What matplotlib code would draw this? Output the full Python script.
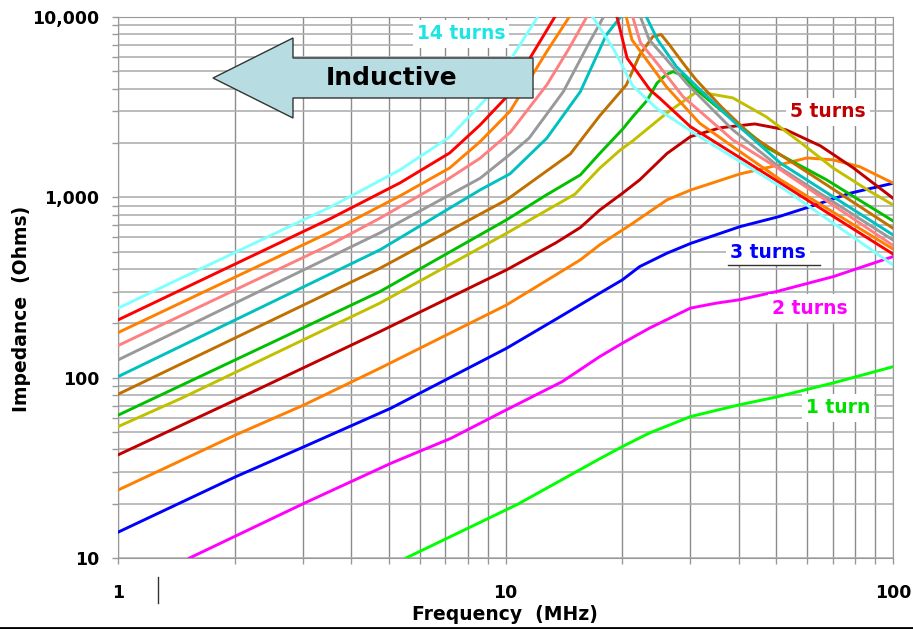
import matplotlib
matplotlib.use("Agg")
import matplotlib.pyplot as plt
from matplotlib.ticker import FixedLocator, FuncFormatter, LogLocator, NullFormatter
from matplotlib.patches import Polygon
from matplotlib.lines import Line2D

# impedance vs frequency, one curve per number of turns (MHz, Ohms)
TURN1_FREQ = [5.54, 10.77, 17.5, 20, 23.5, 30, 40, 50, 70, 100]
TURN1_Z = [10, 19.9, 35.5, 41.4, 49.3, 60.8, 70.6, 78.1, 93.4, 115]

TURN2_FREQ = [1.53, 3.02, 5.06, 7.23, 9.87, 14, 17.5, 20, 23.5, 30, 35, 40, 50, 70, 100]
TURN2_Z = [10, 20.1, 33.5, 46.1, 65, 95, 130.8, 155, 188, 243, 259, 270, 300, 363, 469]

TURN3_FREQ = [1, 2.01, 3.02, 5.06, 10.06, 13.8, 17.5, 20, 22.2, 26.1, 30.1, 40.3, 50.8, 61.1, 77.5, 100]
TURN3_Z = [13.9, 28.2, 41.4, 67.7, 145.5, 217, 294, 348, 413, 490, 556, 688, 782, 888, 1054, 1197]

TURN4_FREQ = [1, 2.01, 3.02, 4.74, 10.06, 15.6, 17.5, 21.3, 26.1, 30.1, 40.3, 50.8, 60, 70, 82, 100]
TURN4_Z = [23.8, 48.1, 70.6, 112.8, 253, 450, 545, 718, 968, 1099, 1349, 1513, 1654, 1614, 1480, 1200]

TURN5_FREQ = [1, 2.01, 4.74, 10.06, 13.5, 15.6, 17.5, 20, 22.2, 26.1, 30, 35.8, 44, 53, 65, 79, 100]
TURN5_Z = [37.3, 75.2, 180, 396, 560, 680, 850, 1050, 1250, 1750, 2170, 2430, 2553, 2366, 1928, 1456, 989]

TURN6_FREQ = [1, 1.46, 4.74, 10.06, 15.1, 17.5, 19.8, 21.3, 26.1, 31.2, 38.6, 47, 57.5, 70, 86, 100]
TURN6_Z = [53.5, 77, 259, 632, 1040, 1450, 1833, 2056, 2940, 3855, 3560, 2803, 2028, 1456, 1099, 908]

TURN7_FREQ = [1, 4.74, 10.06, 12.74, 15.6, 17.5, 20.1, 21.3, 23.2, 24.6, 26, 27.1, 29, 30.4, 35.9, 47.6, 67.4, 100]
TURN7_Z = [61.9, 300, 750, 1030, 1331, 1750, 2400, 2800, 3450, 4300, 4800, 4980, 4670, 4110, 3054, 1871, 1250, 740]

TURN8_FREQ = [1, 4.74, 10.06, 14.7, 17.5, 20.5, 22.2, 24, 25.2, 26.5, 29, 31, 36, 43.4, 47.6, 100]
TURN8_Z = [80.9, 404, 968, 1740, 2830, 4200, 6166, 7785, 8000, 7000, 5400, 4500, 3186, 2170, 1910, 674]

TURN9_FREQ = [1, 4.74, 8.6, 10.27, 12.78, 15.6, 18.2, 19.8, 21.5, 23.1, 24.7, 27.6, 31.8, 39.2, 51.3, 100]
TURN9_Z = [101.3, 511, 1099, 1350, 2127, 3855, 7957, 10000, 12500, 10000, 7468, 5310, 3944, 2576, 1545, 619]

TURN10_FREQ = [1, 4.74, 8.6, 10.27, 11.5, 14.1, 16.5, 17.9, 20, 22.3, 23.5, 26.1, 29.3, 38.6, 51.3, 100]
TURN10_Z = [125.4, 635, 1276, 1730, 2127, 3855, 7303, 10000, 13000, 10000, 7468, 5785, 4295, 2366, 1450, 580]

TURN11_FREQ = [1, 3.55, 4.74, 7.06, 8.6, 10.3, 12.78, 14.6, 16.2, 19, 21.3, 22.3, 25, 28.7, 38.6, 51.3, 100]
TURN11_Z = [150.6, 550, 766, 1250, 1648, 2300, 4200, 6714, 10000, 14000, 10000, 7200, 5310, 3620, 2083, 1420, 541]

TURN12_FREQ = [1, 3.55, 5.34, 7.18, 8.6, 10.27, 12.78, 14.6, 17.5, 20.5, 21.2, 26, 31.7, 38.6, 51.3, 100]
TURN12_Z = [177.7, 646, 1018, 1456, 2036, 3000, 6430, 10000, 15000, 10000, 7468, 4110, 2576, 1910, 1250, 517]

TURN13_FREQ = [1, 3.55, 5.34, 7.18, 8.6, 10.06, 11.5, 13.4, 16.4, 19.4, 20.6, 23.6, 25, 30, 38.6, 51.3, 100]
TURN13_Z = [209, 766, 1202, 1763, 2520, 3600, 5800, 10000, 16000, 10000, 5909, 3944, 3546, 2466, 1756, 1197, 485]

TURN14_FREQ = [1, 3.55, 5.34, 7.18, 8.86, 12.1, 14.3, 16.8, 18.95, 21.3, 24.6, 26.1, 31.7, 40.3, 51.3, 100]
TURN14_Z = [242.7, 888, 1419, 2163, 3471, 10000, 16000, 10000, 6714, 4150, 3100, 2850, 2170, 1578, 1146, 422]

CURVES = [
    (TURN1_FREQ, TURN1_Z), (TURN2_FREQ, TURN2_Z), (TURN3_FREQ, TURN3_Z),
    (TURN4_FREQ, TURN4_Z), (TURN5_FREQ, TURN5_Z), (TURN6_FREQ, TURN6_Z),
    (TURN7_FREQ, TURN7_Z), (TURN8_FREQ, TURN8_Z), (TURN9_FREQ, TURN9_Z),
    (TURN10_FREQ, TURN10_Z), (TURN11_FREQ, TURN11_Z), (TURN12_FREQ, TURN12_Z),
    (TURN13_FREQ, TURN13_Z), (TURN14_FREQ, TURN14_Z),
]

COLORS = ["#00ff00", "#ff00ff", "#0000ff", "#ff8000", "#c00000", "#c0c000", "#00c000",
          "#c07000", "#00c0c0", "#999999", "#ff8080", "#ff8000", "#ff0000", "#80ffff"]

X_TICKS = [1, 10, 100]
Y_TICKS = [10, 100, 1000, 10000]

# curve labels: text, colour, position in axes fraction
LABELS = [
    ("14 turns", "#1ee5e5", 0.4426, 0.9686),
    ("5 turns", "#c00000", 0.916, 0.8244),
    ("3 turns", "#0000ff", 0.8387, 0.5656),
    ("2 turns", "#ff00ff", 0.8929, 0.4621),
    ("1 turn", "#00e000", 0.929, 0.2773),
]


def draw_arrow(ax):
    pts = [(0.1226, 0.8872), (0.2258, 0.9612), (0.2258, 0.9242), (0.5355, 0.9242),
           (0.5355, 0.8503), (0.2258, 0.8503), (0.2258, 0.8133)]
    ax.add_patch(Polygon(pts, closed=True, transform=ax.transAxes, facecolor="#b7dde2",
                         edgecolor="#333333", lw=1, zorder=5, clip_on=False))
    ax.text(0.3535, 0.8872, "Inductive", transform=ax.transAxes, fontsize=18,
            fontweight="bold", ha="center", va="center", zorder=6)


def main():
    plt.rcParams['font.family'] = ['DejaVu Sans']
    plt.rcParams['font.weight'] = 'bold'

    fig = plt.figure(figsize=(9.13, 6.29), dpi=100)
    ax = fig.add_axes([118 / 913, 1 - 558 / 629, 775 / 913, 541 / 629])

    for (f, z), c in zip(CURVES, COLORS):
        ax.plot(f, z, color=c, lw=2.1, solid_joinstyle="round", zorder=3)

    ax.set_xscale("log")
    ax.set_yscale("log")
    ax.set_xlim(1, 100)
    ax.set_ylim(10, 10000)

    ax.xaxis.set_major_locator(FixedLocator(X_TICKS))
    ax.yaxis.set_major_locator(FixedLocator(Y_TICKS))
    ax.xaxis.set_minor_locator(LogLocator(base=10, subs=range(2, 10)))
    ax.yaxis.set_minor_locator(LogLocator(base=10, subs=range(2, 10)))
    fmt = FuncFormatter(lambda v, p: f"{v:,.0f}")
    ax.xaxis.set_major_formatter(fmt)
    ax.yaxis.set_major_formatter(fmt)
    ax.xaxis.set_minor_formatter(NullFormatter())
    ax.yaxis.set_minor_formatter(NullFormatter())

    ax.grid(which="both", axis="y", color="#b0b0b0", lw=1.2)
    ax.grid(which="both", axis="x", color="#8c8c8c", lw=1.0)
    ax.set_axisbelow(True)
    for s in ax.spines.values():
        s.set_color("#999999")

    ax.tick_params(which="both", direction="out", color="#999999", length=4, width=1)
    ax.tick_params(axis="x", labelsize=12.5, pad=15)
    ax.tick_params(axis="y", labelsize=12.5, pad=9.5)

    ax.set_xlabel("Frequency  (MHz)", fontsize=13.5, fontweight="bold")
    ax.xaxis.set_label_coords(0.4994, -0.087)
    ax.set_ylabel("Impedance  (Ohms)", fontsize=13.5, fontweight="bold")
    ax.yaxis.set_label_coords(-0.112, 0.46)

    draw_arrow(ax)

    for text, color, x, y in LABELS:
        ax.text(x, y, text, transform=ax.transAxes, color=color, fontsize=13.5,
                fontweight="bold", ha="center", va="center", zorder=6,
                bbox=dict(facecolor="white", edgecolor="none", pad=3))
    ax.add_line(Line2D([0.787, 0.906], [0.5416, 0.5416], transform=ax.transAxes,
                       color="#333333", lw=1, zorder=7))

    # stray marks of the original slide
    fig.add_artist(Line2D([158 / 913] * 2, [1 - 603 / 629, 1 - 577 / 629], color="#333333", lw=1))
    fig.add_artist(Line2D([0, 1], [1 - 627.5 / 629] * 2, color="black", lw=2))

    fig.savefig("out.png", dpi=100)


if __name__ == '__main__':
    main()
